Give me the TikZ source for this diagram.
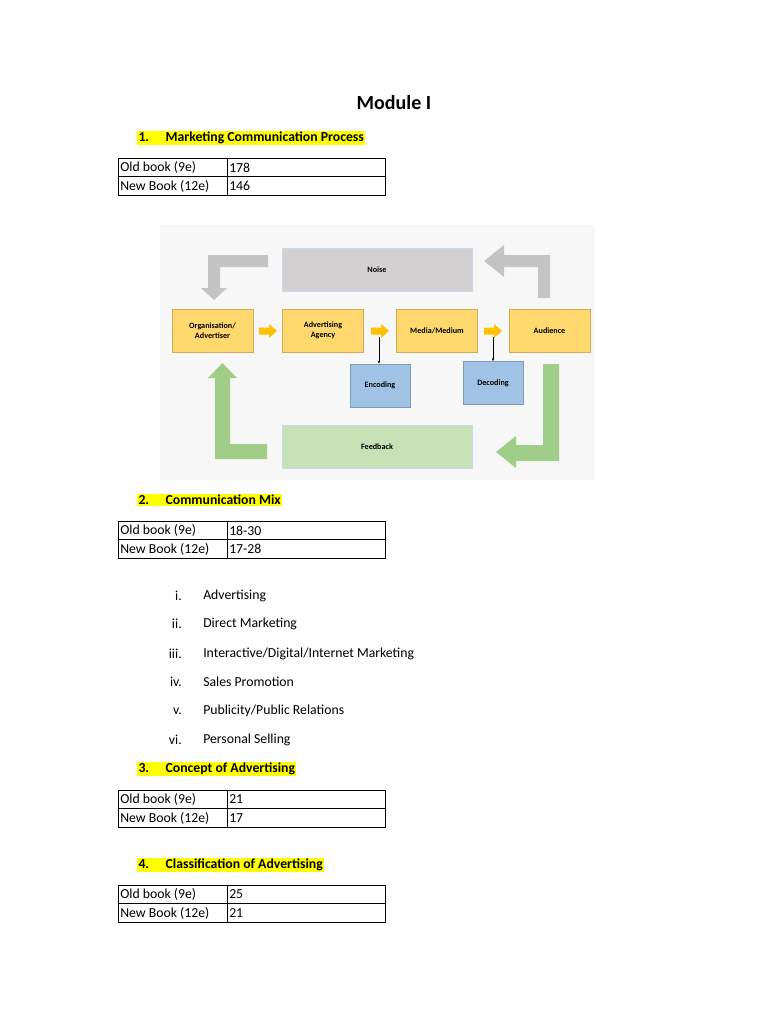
\documentclass[tikz,border=0pt]{standalone}
\usepackage{fontspec}
\setmainfont{Carlito}
\usetikzlibrary{arrows.meta}
\definecolor{hl}{RGB}{255,255,0}
\definecolor{orgfill}{RGB}{255,217,110}
\definecolor{noisefill}{RGB}{210,208,208}
\definecolor{bluefill}{RGB}{160,194,228}
\definecolor{greenfill}{RGB}{200,226,184}
\definecolor{greenarr}{RGB}{160,205,135}
\definecolor{grayarr}{RGB}{196,196,196}
\definecolor{yarr}{RGB}{255,192,0}
\newcommand{\booktable}[3]{% y, old, new
    \draw[line width=.6pt] (118,#1) rectangle (385,#1+37);
    \draw[line width=.6pt] (118,#1+18.5) -- (385,#1+18.5);
    \draw[line width=.6pt] (227,#1) -- (227,#1+37);
    \node[cell] at (120,#1+9.5) {Old book (9e)};
    \node[cell] at (120,#1+28) {New Book (12e)};
    \node[cell] at (229,#1+9.5) {#2};
    \node[cell] at (229,#1+28) {#3};
}
\newcommand{\yarrow}[2]{% small yellow arrow, left end x, centre y
    \fill[yarr] (#1,#2-3.5) -- (#1+10,#2-3.5) -- (#1+10,#2-7) -- (#1+18,#2)
        -- (#1+10,#2+7) -- (#1+10,#2+3.5) -- (#1,#2+3.5) -- cycle;
}
\begin{document}
\begin{tikzpicture}[x=0.8pt, y=-0.8pt,
    cell/.style={anchor=west, inner sep=0pt, font=\fontsize{11}{12}\selectfont},
    head/.style={anchor=west, fill=hl, inner sep=1pt, font=\bfseries\fontsize{11}{12}\selectfont},
    item/.style={anchor=west, inner sep=0pt, font=\fontsize{11}{12}\selectfont},
    num/.style={anchor=east, inner sep=0pt, font=\fontsize{11}{12}\selectfont},
    box/.style={line width=.4pt, align=center, inner sep=1pt,
        font=\bfseries\fontsize{6.5}{7.5}\selectfont},
    pbox/.style={box, fill=orgfill, draw=orgfill!80!black, minimum width=81*0.8pt, minimum height=43*0.8pt},
    wbox/.style={box, draw=bluefill!60, minimum width=190*0.8pt, minimum height=43*0.8pt},
    cbox/.style={box, fill=bluefill, draw=bluefill!80!black, minimum width=60*0.8pt, minimum height=43*0.8pt}]
    \useasboundingbox (0,0) rectangle (768,1024);
    % Titel.
    \node[font=\bfseries\fontsize{16}{18}\selectfont] (title) at (394,103) {Module I};

    % 1.
    \node[head] (h1) at (137,138) {1.\hspace{1.2em}Marketing Communication Process};
    \booktable{158}{178}{146}

    % Diagramm.
    \fill[white!97!black] (160,225) rectangle (595,480);
    \node[pbox] (org) at (212.5,330.5) {Organisation/\\Advertiser};
    \node[pbox] (agency) at (323,330.5) {Advertising\\Agency};
    \node[pbox] (media) at (437,330.5) {Media/Medium};
    \node[pbox] (aud) at (549.5,330.5) {Audience};
    \node[wbox, fill=noisefill] (noise) at (377,269.5) {Noise};
    \node[wbox, fill=greenfill] (feed) at (377,446.5) {Feedback};
    \node[cbox] (enc) at (380,385.5) {Encoding};
    \node[cbox] (dec) at (493,383) {Decoding};
    \yarrow{259}{331}
    \yarrow{371}{331}
    \yarrow{484}{331}
    \coordinate (encstart) at (379,337);
    \coordinate (decstart) at (493,337);
    \draw[line width=.4pt, -{Stealth[length=2.5pt]}] (encstart) -- (encstart |- enc.north);
    \draw[line width=.4pt, -{Stealth[length=2.5pt]}] (decstart) -- (decstart |- dec.north);
    % Blockpfeile grau.
    \fill[grayarr] (268,255) -- (268,267) -- (220,267) -- (220,288) -- (227,288)
        -- (214,300) -- (201,288) -- (208,288) -- (208,255) -- cycle;
    \fill[grayarr] (538,298) -- (550,298) -- (550,255) -- (504,255) -- (504,245)
        -- (484,261) -- (504,277) -- (504,267) -- (538,267) -- cycle;
    % Blockpfeile gruen.
    \fill[greenarr] (267,444) -- (267,459) -- (215,459) -- (215,378) -- (208,378)
        -- (222.5,363) -- (237,378) -- (230,378) -- (230,444) -- cycle;
    \fill[greenarr] (543,364) -- (559,364) -- (559,461) -- (516,461) -- (516,468)
        -- (496,452) -- (516,436) -- (516,445) -- (543,445) -- cycle;

    % 2.
    \node[head] (h2) at (137,500) {2.\hspace{1.2em}Communication Mix};
    \booktable{521}{18-30}{17-28}
    \foreach \rom/\txt/\ypos in {i./Advertising/596, ii./Direct Marketing/624,
        iii./Interactive\slash Digital\slash Internet Marketing/654, iv./Sales Promotion/682,
        v./Publicity\slash Public Relations/711, vi./Personal Selling/740}
    {
        \node[num] at (182,\ypos) {\rom};
        \node[item] at (203,\ypos) {\txt};
    }

    % 3.
    \node[head] (h3) at (137,769) {3.\hspace{1.2em}Concept of Advertising};
    \booktable{790}{21}{17}

    % 4.
    \node[head] (h4) at (137,865) {4.\hspace{1.2em}Classification of Advertising};
    \booktable{885}{25}{21}
\end{tikzpicture}
\end{document}
